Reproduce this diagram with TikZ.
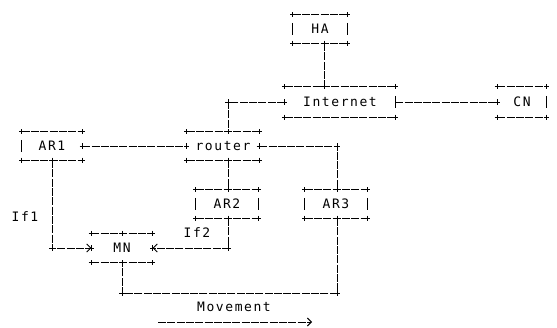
\documentclass[tikz,border=0pt]{standalone}
\usepackage{fontspec}
\newfontfamily\asciifont{DejaVu Sans Mono}[LetterSpace=12]
\usetikzlibrary{arrows.meta}

\tikzset{
  ln/.style={line width=0.9pt, dash pattern=on 8pt off 1.3pt},
  lbl/.style={font=\asciifont\fontsize{13}{15}\selectfont, inner sep=0pt},
  abox/.style={lbl, minimum height=28pt, draw=none},
  tip/.style={-{Straight Barb[length=4pt,width=8pt,line width=0.9pt]}},
}
% small "+" mark at a point
\newcommand\asciiplus[1]{\draw[line width=0.9pt] (#1) ++(-2.6,0) -- ++(5.2,0) (#1) ++(0,-2.6) -- ++(0,5.2);}
% short "|" bar at a point
\newcommand\asciibar[1]{\draw[line width=0.9pt] (#1) ++(0,-6) -- ++(0,12);}
% top and bottom edges of a box with "+" corners
\newcommand\asciibox[1]{%
  \draw[ln] (#1.north west) -- (#1.north east) (#1.south west) -- (#1.south east);
  \foreach \a in {north west,north east,south west,south east}{\asciiplus{#1.\a}}%
}

\begin{document}
\begin{tikzpicture}[x=1pt,y=-1pt]
\useasboundingbox (0,0) rectangle (557,328);

% boxes
\node[abox, minimum width=54pt] (HA) at (320,29) {HA};
\node[abox, minimum width=110pt, minimum height=30pt] (Internet) at (340,102) {Internet};
\node[abox, minimum width=49pt, minimum height=30pt] (CN) at (522,102) {CN};
\node[abox, minimum width=72pt] (router) at (223,146) {router};
\node[abox, minimum width=60pt] (AR1) at (52,146) {AR1};
\node[abox, minimum width=62pt] (AR2) at (227,204) {AR2};
\node[abox, minimum width=62pt] (AR3) at (336,204) {AR3};
\node[abox, minimum width=61pt, minimum height=29pt] (MN) at (122,248) {MN};

\foreach \b in {HA,Internet,CN,router,AR1,AR2,AR3,MN}{\asciibox{\b}}

% side bars and side joints
\asciibar{HA.west} \asciibar{HA.east}
\asciiplus{Internet.west} \asciibar{Internet.east}
\asciiplus{CN.west} \asciibar{CN.east}
\asciiplus{router.west} \asciiplus{router.east}
\asciibar{AR1.west} \asciiplus{AR1.east}
\asciibar{AR2.west} \asciibar{AR2.east}
\asciibar{AR3.west} \asciibar{AR3.east}
\asciiplus{MN.west} \asciiplus{MN.east}

% joints on top/bottom edges
\coordinate (hab) at ([xshift=4pt]HA.south);
\coordinate (rtop) at ([xshift=5pt]router.north);
\coordinate (rbot) at ([xshift=5pt]router.south);
\coordinate (ar3t) at ([xshift=1pt]AR3.north);
\coordinate (ar3b) at ([xshift=1pt]AR3.south);
\asciiplus{hab} \asciiplus{hab |- Internet.north}
\asciiplus{rtop} \asciiplus{rbot}
\asciiplus{AR1.south}
\asciiplus{rbot |- AR2.north} \asciiplus{rbot |- AR2.south}
\asciiplus{ar3t} \asciiplus{ar3b}
\asciiplus{MN.north} \asciiplus{MN.south}

% connectors
\draw[ln] (hab) -- (hab |- Internet.north);
\draw[ln] (Internet.west) -| (rtop);
\asciiplus{Internet.west -| rtop}
\draw[ln] (Internet.east) -- (CN.west);
\draw[ln] (AR1.east) -- (router.west);
\draw[ln] (router.east) -| (ar3t);
\asciiplus{router.east -| ar3t}
\draw[ln] (rbot) -- (rbot |- AR2.north);
\draw[ln,tip] (AR1.south) |- (MN.west);
\asciiplus{AR1.south |- MN.west}
\draw[ln,tip] (rbot |- AR2.south) |- (MN.east);
\asciiplus{rbot |- MN.east}
\draw[ln] (ar3b) -- ++(0,75) coordinate (bend) -| (MN.south);
\asciiplus{bend} \asciiplus{bend -| MN.south}

% labels
\node[lbl] (if1) at (25,217) {If1};
\node[lbl] (if2) at (197,233) {If2};
\node[lbl] (mv) at (234,307) {Movement};
\coordinate (ma) at (158,322);
\coordinate (mb) at (312,322);
\draw[ln,tip] (ma) -- (mb);
\end{tikzpicture}
\end{document}
